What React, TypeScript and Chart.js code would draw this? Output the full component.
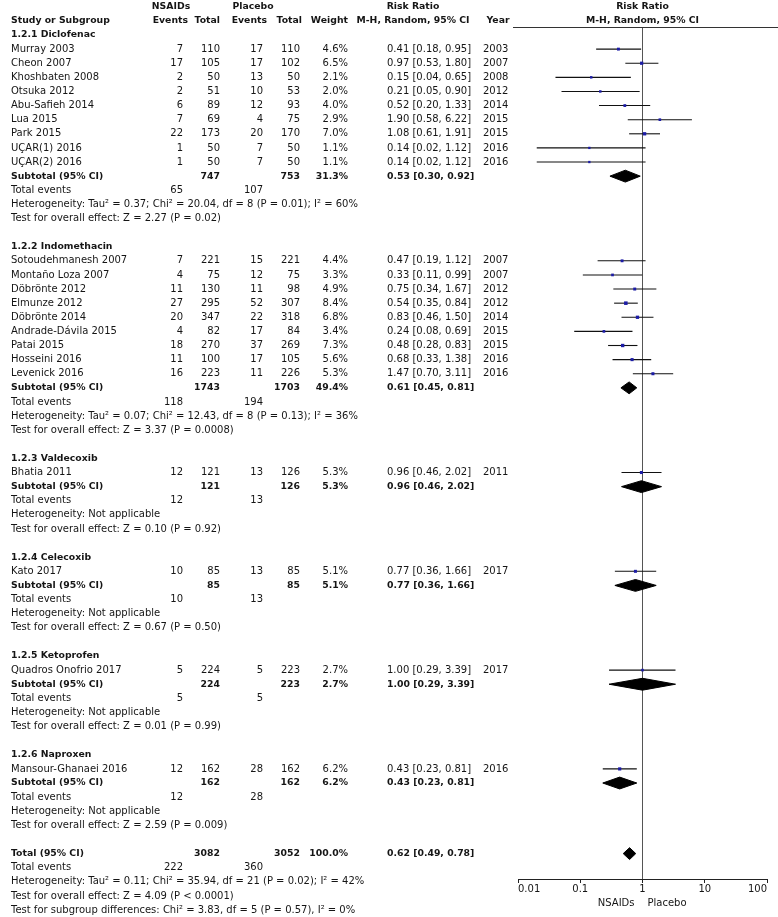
import { useEffect, useRef } from "react";
import { Chart, registerables } from "chart.js";

Chart.register(...registerables);

// ---------------- data ----------------
const GROUP_TITLES = [
  "1.2.1 Diclofenac",
  "1.2.2 Indomethacin",
  "1.2.3 Valdecoxib",
  "1.2.4 Celecoxib",
  "1.2.5 Ketoprofen",
  "1.2.6 Naproxen",
];

const STUDY_GROUP = [0, 0, 0, 0, 0, 0, 0, 0, 0, 1, 1, 1, 1, 1, 1, 1, 1, 1, 2, 3, 4, 5];
const STUDY_NAMES = [
  "Murray 2003", "Cheon 2007", "Khoshbaten 2008", "Otsuka 2012", "Abu-Safieh 2014",
  "Lua 2015", "Park 2015", "UÇAR(1) 2016", "UÇAR(2) 2016",
  "Sotoudehmanesh 2007", "Montaño Loza 2007", "Döbrönte 2012", "Elmunze 2012",
  "Döbrönte 2014", "Andrade-Dávila 2015", "Patai 2015", "Hosseini 2016", "Levenick 2016",
  "Bhatia 2011", "Kato 2017", "Quadros Onofrio 2017", "Mansour-Ghanaei 2016",
];
const EVENTS_NSAID = [7, 17, 2, 2, 6, 7, 22, 1, 1, 7, 4, 11, 27, 20, 4, 18, 11, 16, 12, 10, 5, 12];
const TOTAL_NSAID = [110, 105, 50, 51, 89, 69, 173, 50, 50, 221, 75, 130, 295, 347, 82, 270, 100, 223, 121, 85, 224, 162];
const EVENTS_PLAC = [17, 17, 13, 10, 12, 4, 20, 7, 7, 15, 12, 11, 52, 22, 17, 37, 17, 11, 13, 13, 5, 28];
const TOTAL_PLAC = [110, 102, 50, 53, 93, 75, 170, 50, 50, 221, 75, 98, 307, 318, 84, 269, 105, 226, 126, 85, 223, 162];
const WEIGHTS = [4.6, 6.5, 2.1, 2.0, 4.0, 2.9, 7.0, 1.1, 1.1, 4.4, 3.3, 4.9, 8.4, 6.8, 3.4, 7.3, 5.6, 5.3, 5.3, 5.1, 2.7, 6.2];
const RR = [0.41, 0.97, 0.15, 0.21, 0.52, 1.90, 1.08, 0.14, 0.14, 0.47, 0.33, 0.75, 0.54, 0.83, 0.24, 0.48, 0.68, 1.47, 0.96, 0.77, 1.00, 0.43];
const RR_LOW = [0.18, 0.53, 0.04, 0.05, 0.20, 0.58, 0.61, 0.02, 0.02, 0.19, 0.11, 0.34, 0.35, 0.46, 0.08, 0.28, 0.33, 0.70, 0.46, 0.36, 0.29, 0.23];
const RR_HIGH = [0.95, 1.80, 0.65, 0.90, 1.33, 6.22, 1.91, 1.12, 1.12, 1.12, 0.99, 1.67, 0.84, 1.50, 0.69, 0.83, 1.38, 3.11, 2.02, 1.66, 3.39, 0.81];
const YEARS = [2003, 2007, 2008, 2012, 2014, 2015, 2015, 2016, 2016, 2007, 2007, 2012, 2012, 2014, 2015, 2015, 2016, 2016, 2011, 2017, 2017, 2016];

const SUB_TOTAL_NSAID = [747, 1743, 121, 85, 224, 162];
const SUB_TOTAL_PLAC = [753, 1703, 126, 85, 223, 162];
const SUB_WEIGHT = [31.3, 49.4, 5.3, 5.1, 2.7, 6.2];
const SUB_RR = [0.53, 0.61, 0.96, 0.77, 1.00, 0.43];
const SUB_LOW = [0.30, 0.45, 0.46, 0.36, 0.29, 0.23];
const SUB_HIGH = [0.92, 0.81, 2.02, 1.66, 3.39, 0.81];
const SUB_EVENTS_NSAID = [65, 118, 12, 10, 5, 12];
const SUB_EVENTS_PLAC = [107, 194, 13, 13, 5, 28];
const SUB_HETEROGENEITY = [
  "Heterogeneity: Tau² = 0.37; Chi² = 20.04, df = 8 (P = 0.01); I² = 60%",
  "Heterogeneity: Tau² = 0.07; Chi² = 12.43, df = 8 (P = 0.13); I² = 36%",
  "Heterogeneity: Not applicable",
  "Heterogeneity: Not applicable",
  "Heterogeneity: Not applicable",
  "Heterogeneity: Not applicable",
];
const SUB_OVERALL = [
  "Test for overall effect: Z = 2.27 (P = 0.02)",
  "Test for overall effect: Z = 3.37 (P = 0.0008)",
  "Test for overall effect: Z = 0.10 (P = 0.92)",
  "Test for overall effect: Z = 0.67 (P = 0.50)",
  "Test for overall effect: Z = 0.01 (P = 0.99)",
  "Test for overall effect: Z = 2.59 (P = 0.009)",
];

const OVERALL_TOTALS = [3082, 3052];
const OVERALL_WEIGHT = 100.0;
const OVERALL_RR = [0.62, 0.49, 0.78];
const OVERALL_EVENTS = [222, 360];
const OVERALL_TEXT = [
  "Heterogeneity: Tau² = 0.11; Chi² = 35.94, df = 21 (P = 0.02); I² = 42%",
  "Test for overall effect: Z = 4.09 (P < 0.0001)",
  "Test for subgroup differences: Chi² = 3.83, df = 5 (P = 0.57), I² = 0%",
];

const X_TICKS = [0.01, 0.1, 1, 10, 100];
const FAVOURS = ["NSAIDs", "Placebo"];

// ---------------- layout / style ----------------
const W = 778;
const H = 917;
const FONT = '"DejaVu Sans", sans-serif';
const FS = 10;
const FS_BOLD = 9.3;
const TEXT = "#151515";
const COL = { name: 11, ev1: 183, tot1: 220, ev2: 263, tot2: 300, wt: 348, rr: 387, year: 483 };
const HCOL = { ev1: 188, tot1: 220, ev2: 267, tot2: 302, wt: 348, nsaid: 171, plac: 253, rr: 413, year: 498 };
const Y_MIN = -0.567;
const Y_MAX = 59.8;
const DIAMOND_H = 0.42;

type Row =
  | { kind: "group"; row: number; g: number }
  | { kind: "study"; row: number; i: number }
  | { kind: "sub"; row: number; g: number }
  | { kind: "events"; row: number; a: number; b: number }
  | { kind: "note"; row: number; text: string }
  | { kind: "total"; row: number };

function buildRows(): Row[] {
  const rows: Row[] = [];
  let r = 0;
  GROUP_TITLES.forEach((_, g) => {
    rows.push({ kind: "group", row: r++, g });
    STUDY_NAMES.forEach((_, i) => {
      if (STUDY_GROUP[i] === g) rows.push({ kind: "study", row: r++, i });
    });
    rows.push({ kind: "sub", row: r++, g });
    rows.push({ kind: "events", row: r++, a: SUB_EVENTS_NSAID[g], b: SUB_EVENTS_PLAC[g] });
    rows.push({ kind: "note", row: r++, text: SUB_HETEROGENEITY[g] });
    rows.push({ kind: "note", row: r++, text: SUB_OVERALL[g] });
    r++; // blank line
  });
  rows.push({ kind: "total", row: r++ });
  rows.push({ kind: "events", row: r++, a: OVERALL_EVENTS[0], b: OVERALL_EVENTS[1] });
  OVERALL_TEXT.forEach((t) => rows.push({ kind: "note", row: r++, text: t }));
  return rows;
}

const fmtCI = (a: number, b: number, c: number) => `${a.toFixed(2)} [${b.toFixed(2)}, ${c.toFixed(2)}]`;

export default function App() {
  const ref = useRef<HTMLCanvasElement>(null);

  useEffect(() => {
    const canvas = ref.current;
    if (!canvas) return;
    const rows = buildRows();

    const studyRow: number[] = [];
    const subRow: number[] = [];
    let totalRow = 0;
    rows.forEach((r) => {
      if (r.kind === "study") studyRow[r.i] = r.row;
      if (r.kind === "sub") subRow[r.g] = r.row;
      if (r.kind === "total") totalRow = r.row;
    });

    const datasets: any[] = [];
    // study point estimates
    datasets.push({
      order: 0,
      data: RR.map((v, i) => ({ x: v, y: studyRow[i] })),
      pointStyle: "rect",
      pointRadius: WEIGHTS.map((w) => 1.5 + w * 0.12),
      backgroundColor: "#1c1ca6",
      borderWidth: 0,
      showLine: false,
    });
    // confidence interval lines
    RR.forEach((_, i) => {
      datasets.push({
        order: 2,
        data: [
          { x: RR_LOW[i], y: studyRow[i] },
          { x: RR_HIGH[i], y: studyRow[i] },
        ],
        showLine: true,
        borderColor: "#111",
        borderWidth: 1.1,
        pointRadius: 0,
        fill: false,
      });
    });
    // diamonds
    const diamond = (est: number, lo: number, hi: number, row: number) => {
      datasets.push({
        order: 1,
        data: [
          { x: lo, y: row },
          { x: est, y: row - DIAMOND_H },
          { x: hi, y: row },
        ],
        showLine: true,
        borderColor: "#000",
        borderWidth: 1,
        pointRadius: 0,
        fill: false,
      });
      datasets.push({
        order: 1,
        data: [
          { x: lo, y: row },
          { x: est, y: row + DIAMOND_H },
          { x: hi, y: row },
        ],
        showLine: true,
        borderColor: "#000",
        borderWidth: 1,
        backgroundColor: "#000",
        pointRadius: 0,
        fill: "-1",
      });
    };
    SUB_RR.forEach((v, g) => diamond(v, SUB_LOW[g], SUB_HIGH[g], subRow[g]));
    diamond(OVERALL_RR[0], OVERALL_RR[1], OVERALL_RR[2], totalRow);

    const textPlugin = {
      id: "forestText",
      afterDraw(chart: any) {
        const ctx: CanvasRenderingContext2D = chart.ctx;
        const ys = chart.scales.y;
        const xs = chart.scales.x;
        const area = chart.chartArea;
        const py = (r: number) => ys.getPixelForValue(r);
        const x1 = xs.getPixelForValue(1);
        const put = (t: string, x: number, yy: number, align: CanvasTextAlign, bold = false) => {
          ctx.font = bold ? `bold ${FS_BOLD}px ${FONT}` : `${FS}px ${FONT}`;
          ctx.textAlign = align;
          ctx.fillText(t, x, yy);
        };
        ctx.save();
        ctx.fillStyle = TEXT;
        ctx.textBaseline = "middle";

        // header line under the plot header
        ctx.strokeStyle = "#333";
        ctx.lineWidth = 1;
        ctx.beginPath();
        ctx.moveTo(area.left - 5, Math.round(area.top) + 0.5);
        ctx.lineTo(W, Math.round(area.top) + 0.5);
        ctx.stroke();

        // headers
        const h1 = py(-2);
        const h2 = py(-1);
        put("NSAIDs", HCOL.nsaid, h1, "center", true);
        put("Placebo", HCOL.plac, h1, "center", true);
        put("Risk Ratio", HCOL.rr, h1, "center", true);
        put("Risk Ratio", x1, h1, "center", true);
        put("Study or Subgroup", COL.name, h2, "left", true);
        put("Events", HCOL.ev1, h2, "right", true);
        put("Total", HCOL.tot1, h2, "right", true);
        put("Events", HCOL.ev2, h2, "right", true);
        put("Total", HCOL.tot2, h2, "right", true);
        put("Weight", HCOL.wt, h2, "right", true);
        put("M-H, Random, 95% CI", HCOL.rr, h2, "center", true);
        put("Year", HCOL.year, h2, "center", true);
        put("M-H, Random, 95% CI", x1, h2, "center", true);

        rows.forEach((r) => {
          const y = py(r.row);
          if (r.kind === "group") {
            put(GROUP_TITLES[r.g], COL.name, y, "left", true);
          } else if (r.kind === "study") {
            const i = r.i;
            put(STUDY_NAMES[i], COL.name, y, "left");
            put(String(EVENTS_NSAID[i]), COL.ev1, y, "right");
            put(String(TOTAL_NSAID[i]), COL.tot1, y, "right");
            put(String(EVENTS_PLAC[i]), COL.ev2, y, "right");
            put(String(TOTAL_PLAC[i]), COL.tot2, y, "right");
            put(`${WEIGHTS[i].toFixed(1)}%`, COL.wt, y, "right");
            put(fmtCI(RR[i], RR_LOW[i], RR_HIGH[i]), COL.rr, y, "left");
            put(String(YEARS[i]), COL.year, y, "left");
          } else if (r.kind === "sub") {
            const g = r.g;
            put("Subtotal (95% CI)", COL.name, y, "left", true);
            put(String(SUB_TOTAL_NSAID[g]), COL.tot1, y, "right", true);
            put(String(SUB_TOTAL_PLAC[g]), COL.tot2, y, "right", true);
            put(`${SUB_WEIGHT[g].toFixed(1)}%`, COL.wt, y, "right", true);
            put(fmtCI(SUB_RR[g], SUB_LOW[g], SUB_HIGH[g]), COL.rr, y, "left", true);
          } else if (r.kind === "events") {
            put("Total events", COL.name, y, "left");
            put(String(r.a), COL.ev1, y, "right");
            put(String(r.b), COL.ev2, y, "right");
          } else if (r.kind === "note") {
            put(r.text, COL.name, y, "left");
          } else if (r.kind === "total") {
            put("Total (95% CI)", COL.name, y, "left", true);
            put(String(OVERALL_TOTALS[0]), COL.tot1, y, "right", true);
            put(String(OVERALL_TOTALS[1]), COL.tot2, y, "right", true);
            put(`${OVERALL_WEIGHT.toFixed(1)}%`, COL.wt, y, "right", true);
            put(fmtCI(OVERALL_RR[0], OVERALL_RR[1], OVERALL_RR[2]), COL.rr, y, "left", true);
          }
        });

        // favours labels under axis
        const fy = area.bottom + 24;
        put(FAVOURS[0], x1 - 8, fy, "right");
        put(FAVOURS[1], x1 + 5, fy, "left");
        ctx.restore();
      },
    };

    const chart = new Chart(canvas, {
      type: "scatter",
      data: { datasets },
      plugins: [textPlugin],
      options: {
        animation: false,
        responsive: false,
        devicePixelRatio: 1,
        events: [],
        layout: { padding: { left: 518, right: 11, top: 27, bottom: 0 } },
        plugins: { legend: { display: false }, tooltip: { enabled: false } },
        scales: {
          x: {
            type: "logarithmic",
            min: X_TICKS[0],
            max: X_TICKS[X_TICKS.length - 1],
            afterBuildTicks: (s: any) => {
              s.ticks = X_TICKS.map((v) => ({ value: v }));
            },
            afterFit: (s: any) => {
              s.height = 38;
            },
            ticks: {
              callback: (v: any) => String(v),
              font: { family: FONT, size: FS },
              color: TEXT,
              align: "inner",
              padding: 0,
              autoSkip: false,
              maxRotation: 0,
            },
            grid: {
              drawOnChartArea: true,
              color: (c: any) => (c.tick && c.tick.value === 1 ? "#555" : "rgba(0,0,0,0)"),
              tickColor: "#222",
              tickLength: 4,
            },
            border: { display: true, color: "#222" },
          },
          y: {
            type: "linear",
            display: false,
            reverse: true,
            min: Y_MIN,
            max: Y_MAX,
          },
        },
      },
    } as any);

    return () => chart.destroy();
  }, []);

  return (
    <div style={{ position: "absolute", left: 0, top: 0, width: W, height: H, background: "#fff" }}>
      <canvas ref={ref} width={W} height={H} style={{ display: "block" }} />
    </div>
  );
}
